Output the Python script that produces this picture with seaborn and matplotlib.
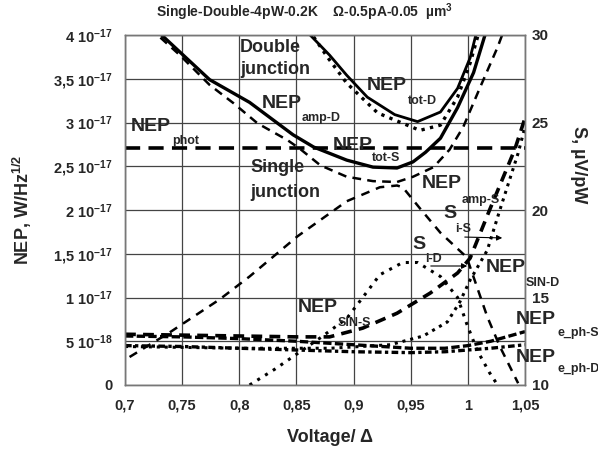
import numpy as np
import matplotlib
matplotlib.use("Agg")
import matplotlib.pyplot as plt
import seaborn as sns

# NEP values are in units of 1e-17 W/Hz^1/2 (left axis), S in uV/pW (right axis)
v_tot_d = [0.862, 0.879, 0.894, 0.912, 0.936, 0.956, 0.976, 0.991, 1.002, 1.007]
nep_tot_d = [4.0, 3.77, 3.54, 3.29, 3.09, 3.01, 3.12, 3.39, 3.74, 4.0]

v_amp_d = [0.865, 0.877, 0.894, 0.921, 0.932, 0.958, 0.976, 0.991, 1.002, 1.009]
nep_amp_d = [3.98, 3.75, 3.45, 3.11, 3.05, 2.91, 2.97, 3.29, 3.68, 4.0]

v_tot_s = [0.732, 0.774, 0.809, 0.847, 0.865, 0.894, 0.917, 0.938, 0.952, 0.963, 0.976, 0.991, 1.005, 1.015]
nep_tot_s = [4.0, 3.49, 3.23, 2.86, 2.72, 2.57, 2.49, 2.48, 2.55, 2.66, 2.82, 3.17, 3.57, 4.0]

v_amp_s = [0.731, 0.748, 0.774, 0.795, 0.816, 0.842, 0.853, 0.871, 0.894, 0.917, 0.938,
           0.952, 0.970, 0.984, 0.996, 1.011, 1.026, 1.030]
nep_amp_s = [3.97, 3.77, 3.43, 3.22, 2.99, 2.80, 2.70, 2.51, 2.38, 2.33, 2.32,
             2.38, 2.49, 2.69, 2.95, 3.41, 3.86, 4.0]

v_phot = [0.70, 1.05]
nep_phot = [2.71, 2.71]

v_sin_s = [0.70, 0.75, 0.80, 0.85, 0.879, 0.908, 0.938, 0.967, 0.991, 1.002, 1.019, 1.041, 1.050]
nep_sin_s = [0.58, 0.57, 0.56, 0.55, 0.55, 0.65, 0.82, 1.05, 1.28, 1.45, 2.0, 2.69, 3.05]

v_sin_d = [0.70, 0.80, 0.88, 0.932, 0.961, 0.982, 0.993, 1.002, 1.017, 1.028, 1.044, 1.050]
nep_sin_d = [0.44, 0.42, 0.42, 0.46, 0.56, 0.72, 0.95, 1.2, 1.54, 2.0, 2.65, 2.95]

v_eph = [0.70, 0.75, 0.80, 0.85, 0.90, 0.95, 0.98, 1.00, 1.02, 1.05]
nep_eph_s = [0.56, 0.55, 0.53, 0.50, 0.46, 0.42, 0.42, 0.45, 0.50, 0.61]
nep_eph_d = [0.45, 0.44, 0.42, 0.40, 0.38, 0.37, 0.38, 0.40, 0.42, 0.46]

v_s_is = [0.704, 0.739, 0.783, 0.809, 0.851, 0.894, 0.923, 0.938, 0.943, 0.958, 0.976, 0.999, 1.017, 1.028, 1.044]
s_is = [11.6, 13.0, 14.9, 16.2, 18.5, 20.5, 21.3, 21.4, 21.3, 20.1, 18.7, 17.3, 13.9, 12.2, 10.1]

v_s_id = [0.809, 0.831, 0.851, 0.871, 0.894, 0.908, 0.923, 0.943, 0.956, 0.976, 0.991, 0.999, 1.008, 1.019, 1.026]
s_id = [10.0, 10.9, 11.8, 12.7, 13.8, 15.0, 16.3, 17.0, 17.0, 16.2, 15.0, 13.5, 12.0, 10.7, 10.0]

x_ticks = [0.7, 0.75, 0.8, 0.85, 0.9, 0.95, 1.0, 1.05]
x_tick_labels = ["0,7", "0,75", "0,8", "0,85", "0,9", "0,95", "1", "1,05"]
y_ticks = [0, 0.5, 1, 1.5, 2, 2.5, 3, 3.5, 4]
y_tick_labels = ["0", "5 10$^{-18}$", "1 10$^{-17}$", "1,5 10$^{-17}$", "2 10$^{-17}$",
                 "2,5 10$^{-17}$", "3 10$^{-17}$", "3,5 10$^{-17}$", "4 10$^{-17}$"]
s_ticks = [10, 15, 20, 25, 30]

sns.set_style("white")
plt.rcParams['font.family'] = ['Liberation Sans', 'DejaVu Sans']
plt.rcParams['font.weight'] = 'bold'
plt.rcParams['mathtext.fontset'] = 'custom'
plt.rcParams['mathtext.rm'] = 'Liberation Sans:bold'
plt.rcParams['mathtext.bf'] = 'Liberation Sans:bold'
plt.rcParams['mathtext.default'] = 'bf'

W, H = 598, 450
fig = plt.figure(figsize=(W / 100, H / 100), dpi=100)
ax = fig.add_axes([125 / W, 65 / H, 400 / W, 350 / H])
ax2 = ax.twinx()

k = 'black'
# left axis: NEP curves
sns.lineplot(x=v_tot_d, y=nep_tot_d, ax=ax, color=k, lw=2.0, sort=False)
sns.lineplot(x=v_amp_d, y=nep_amp_d, ax=ax, color=k, lw=2.4, linestyle=(0, (1, 1.6)), sort=False)
sns.lineplot(x=v_tot_s, y=nep_tot_s, ax=ax, color=k, lw=2.4, sort=False)
sns.lineplot(x=v_amp_s, y=nep_amp_s, ax=ax, color=k, lw=1.8, linestyle=(0, (3.5, 2.5)), sort=False)
sns.lineplot(x=v_phot, y=nep_phot, ax=ax, color=k, lw=2.6, linestyle=(0, (4.2, 2.3)), sort=False)
sns.lineplot(x=v_sin_s, y=nep_sin_s, ax=ax, color=k, lw=2.6, linestyle=(0, (3, 2)), sort=False)
sns.lineplot(x=v_sin_d, y=nep_sin_d, ax=ax, color=k, lw=2.2, linestyle=(0, (1, 1.6)), sort=False)
sns.lineplot(x=v_eph, y=nep_eph_s, ax=ax, color=k, lw=2.4, linestyle=(0, (2.5, 1)), sort=False)
sns.lineplot(x=v_eph, y=nep_eph_d, ax=ax, color=k, lw=2.4, linestyle=(0, (2, 1, 1, 1)), sort=False)

# right axis: responsivities
sns.lineplot(x=v_s_is, y=s_is, ax=ax2, color=k, lw=1.8, linestyle=(0, (3.5, 2.8)), sort=False)
sns.lineplot(x=v_s_id, y=s_id, ax=ax2, color=k, lw=2.2, linestyle=(0, (1, 2)), sort=False)

ax.set_xlim(0.7, 1.05)
ax.set_ylim(0, 4)
ax2.set_ylim(10, 30)
ax.set_xticks(x_ticks)
ax.set_xticklabels(x_tick_labels)
ax.set_yticks(y_ticks)
ax.set_yticklabels(y_tick_labels)
ax2.set_yticks(s_ticks)
ax2.set_yticklabels([str(t) for t in s_ticks])
ax.grid(True, color='#444444', lw=0.9)
ax.set_axisbelow(True)
ax2.grid(False)
ax.tick_params(length=0, labelsize=10.5, pad=9)
ax.tick_params(axis='x', pad=10)
ax2.tick_params(length=0, labelsize=11, pad=5)
for a in (ax, ax2):
    for sp in a.spines.values():
        sp.set_color('#777777')
        sp.set_linewidth(1.0)
ax.set_xlabel("")
ax.set_ylabel("")
ax2.set_ylabel("")


def lab(px, py, s, size=14):
    fig.text(px / W, 1 - py / H, s, fontsize=size, fontweight='bold', ha='left', va='center')


def nep(px, py, sub, dx=40, dy=14):
    lab(px, py, "NEP", 14)
    lab(px + dx, py + dy, sub, 9)


lab(240, 47, "Double", 13)
lab(240, 70, "junction", 13)
nep(262, 104, "amp-D")
nep(367, 85, "tot-D", dx=41, dy=16)
nep(131, 127, "phot", dx=41)
nep(333, 145, "tot-S", dx=39, dy=13)
lab(250, 168, "Single", 13)
lab(250, 192, "junction", 13)
nep(422, 183, "amp-S", dy=17)
lab(443, 213, "S", 14)
lab(455, 229, "i-S", 9)
lab(412, 245, "S", 14)
lab(425, 259, "i-D", 9)
nep(486, 268, "SIN-D", dy=15)
nep(298, 307, "SIN-S", dy=16)
nep(516, 320, "e_ph-S", dx=41, dy=13)
nep(516, 357, "e_ph-D", dx=41, dy=12)

for (x0, y0, x1, y1) in [(462, 237, 505, 238), (428, 266, 470, 266)]:
    ax.annotate("", xy=(x1 / W, 1 - y1 / H), xytext=(x0 / W, 1 - y0 / H),
                xycoords='figure fraction', textcoords='figure fraction',
                arrowprops=dict(arrowstyle='-|>', color=k, lw=0.8, mutation_scale=8))

fig.text(305 / W, 1 - 12 / H, "Single-Double-4pW-0.2K    \u03a9-0.5pA-0.05  \u00b5m$^{3}$",
         fontsize=10, fontweight='bold', ha='center', va='center')
fig.text(330 / W, 1 - 437 / H, "Voltage/ \u0394", fontsize=13, fontweight='bold',
         ha='center', va='center')
fig.text(22 / W, 1 - 210 / H, "NEP, W/Hz$^{1/2}$", fontsize=13, fontweight='bold',
         ha='center', va='center', rotation=90)
fig.text(578 / W, 1 - 165 / H, "S, \u00b5V/pW", fontsize=13, fontweight='bold',
         ha='center', va='center', rotation=270)

fig.savefig("out.png", dpi=100, facecolor='white')
